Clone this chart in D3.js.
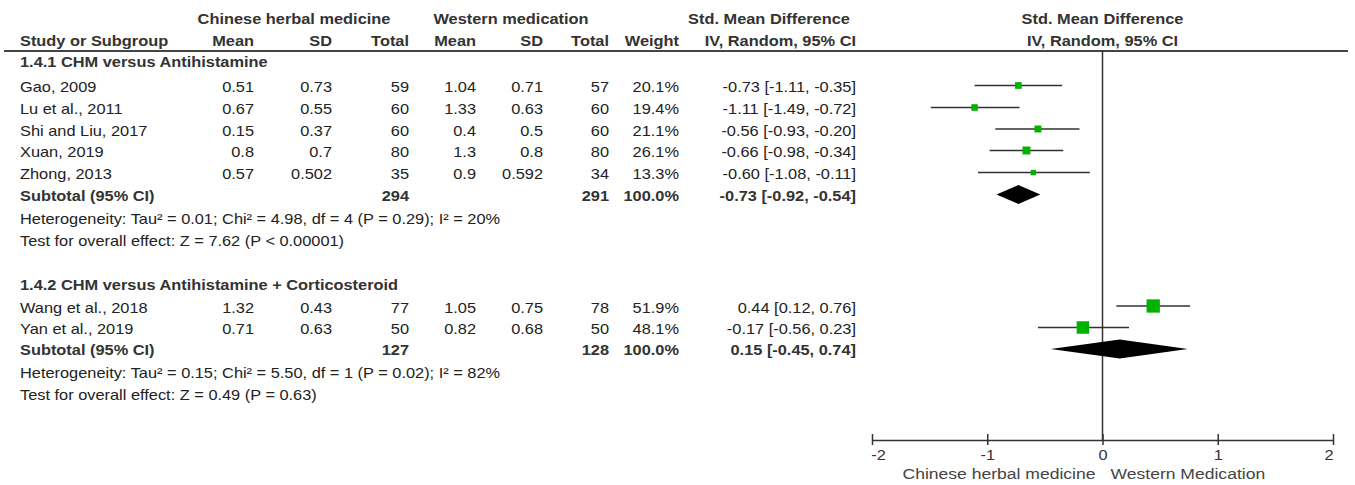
<!DOCTYPE html>
<html>
<head>
<meta charset="utf-8">
<script src="https://cdn.jsdelivr.net/npm/d3@7"></script>
<style>
  body { margin: 0; background: #fff; }
  svg text { font-family: "Liberation Sans", Arial, sans-serif; font-size: 14px; fill: #222; }
</style>
</head>
<body>
<script>
// forest plot - CHM vs western medication
var studies = ["Gao, 2009", "Lu et al., 2011", "Shi and Liu, 2017", "Xuan, 2019", "Zhong, 2013",
               "Wang et al., 2018", "Yan et al., 2019"];
var group = [0, 0, 0, 0, 0, 1, 1];
var chmMean = [0.51, 0.67, 0.15, 0.8, 0.57, 1.32, 0.71];
var chmSD = [0.73, 0.55, 0.37, 0.7, 0.502, 0.43, 0.63];
var chmTotal = [59, 60, 60, 80, 35, 77, 50];
var wmMean = [1.04, 1.33, 0.4, 1.3, 0.9, 1.05, 0.82];
var wmSD = [0.71, 0.63, 0.5, 0.8, 0.592, 0.75, 0.68];
var wmTotal = [57, 60, 60, 80, 34, 78, 50];
var weight = [20.1, 19.4, 21.1, 26.1, 13.3, 51.9, 48.1];
var smd = [-0.73, -1.11, -0.56, -0.66, -0.60, 0.44, -0.17];
var ciLow = [-1.11, -1.49, -0.93, -0.98, -1.08, 0.12, -0.56];
var ciHigh = [-0.35, -0.72, -0.20, -0.34, -0.11, 0.76, 0.23];

var groupTitles = ["1.4.1 CHM versus Antihistamine", "1.4.2 CHM versus Antihistamine + Corticosteroid"];
var subChmTotal = [294, 127];
var subWmTotal = [291, 128];
var subSmd = [-0.73, 0.15];
var subLow = [-0.92, -0.45];
var subHigh = [-0.54, 0.74];
var hetText = ["Heterogeneity: Tau\u00b2 = 0.01; Chi\u00b2 = 4.98, df = 4 (P = 0.29); I\u00b2 = 20%",
               "Heterogeneity: Tau\u00b2 = 0.15; Chi\u00b2 = 5.50, df = 1 (P = 0.02); I\u00b2 = 82%"];
var effectText = ["Test for overall effect: Z = 7.62 (P < 0.00001)",
                  "Test for overall effect: Z = 0.49 (P = 0.63)"];
var tickVals = [-2, -1, 0, 1, 2];
var favourLabels = ["Chinese herbal medicine", "Western Medication"];

var w = 1355;
var h = 485;
var sx = 1.17; // the source text is a bit stretched sideways
var svg = d3.select("body").append("svg")
  .attr("width", w)
  .attr("height", h);

var x = d3.scaleLinear().domain([-2, 2]).range([872, 1333]);
var boxSize = d3.scaleLinear().domain([13.3, 51.9]).range([5.3, 13.3]);
var green = "#00b300";
var lineCol = "#333";

// baselines of each text row
var studyY = [92, 114, 135.5, 157, 179, 312.5, 334];
var titleY = [67, 290];
var subY = [200.5, 355];
var hetY = [224, 378];
var effY = [246, 400];

// column right edges
var cols = {cm: 254, cs: 332, ct: 409, wm: 476, ws: 543, wt: 609, wgt: 679, ci: 856};
function fmtCI(e, lo, hi) {
  return e.toFixed(2) + " [" + lo.toFixed(2) + ", " + hi.toFixed(2) + "]";
}
function place(xx, yy) {
  return "translate(" + xx + "," + yy + ") scale(" + sx + ",1)";
}

// header
function htext(xx, yy, s, anchor) {
  svg.append("text").attr("transform", place(xx, yy)).attr("text-anchor", anchor)
    .style("font-weight", "bold").style("fill", "#333").text(s);
}
htext(294, 24, "Chinese herbal medicine", "middle");
htext(511, 24, "Western medication", "middle");
htext(769, 24, "Std. Mean Difference", "middle");
htext(x(0), 24, "Std. Mean Difference", "middle");
htext(20, 46, "Study or Subgroup", "start");
htext(cols.cm, 46, "Mean", "end");
htext(cols.cs, 46, "SD", "end");
htext(cols.ct, 46, "Total", "end");
htext(cols.wm, 46, "Mean", "end");
htext(cols.ws, 46, "SD", "end");
htext(cols.wt, 46, "Total", "end");
htext(cols.wgt, 46, "Weight", "end");
htext(cols.ci, 46, "IV, Random, 95% CI", "end");
htext(x(0), 46, "IV, Random, 95% CI", "middle");

svg.append("line")
  .attr("x1", 4).attr("x2", 1348)
  .attr("y1", 51).attr("y2", 51)
  .attr("stroke", "#444").attr("stroke-width", 2);

// null line
svg.append("line")
  .attr("x1", x(0)).attr("x2", x(0))
  .attr("y1", 51).attr("y2", 440)
  .attr("stroke", lineCol).attr("stroke-width", 1.5);

// study rows
var rows = svg.selectAll(".study")
  .data(studies)
  .enter()
  .append("g")
  .attr("class", "study")
  .attr("transform", function(d, i) { return "translate(0," + studyY[i] + ")"; });

rows.append("text").attr("transform", place(20, 0)).text(function(d) { return d; });
var numCols = [
  [cols.cm, function(i) { return String(chmMean[i]); }],
  [cols.cs, function(i) { return String(chmSD[i]); }],
  [cols.ct, function(i) { return chmTotal[i]; }],
  [cols.wm, function(i) { return String(wmMean[i]); }],
  [cols.ws, function(i) { return String(wmSD[i]); }],
  [cols.wt, function(i) { return wmTotal[i]; }],
  [cols.wgt, function(i) { return weight[i].toFixed(1) + "%"; }],
  [cols.ci, function(i) { return fmtCI(smd[i], ciLow[i], ciHigh[i]); }]
];
numCols.forEach(function(c) {
  rows.append("text")
    .attr("transform", place(c[0], 0))
    .attr("text-anchor", "end")
    .text(function(d, i) { return c[1](i); });
});

rows.append("line")
  .attr("x1", function(d, i) { return x(ciLow[i]); })
  .attr("x2", function(d, i) { return x(ciHigh[i]); })
  .attr("y1", -6.5).attr("y2", -6.5)
  .attr("stroke", lineCol).attr("stroke-width", 1.7);

rows.append("rect")
  .attr("x", function(d, i) { return x(smd[i]) - boxSize(weight[i]) / 2; })
  .attr("y", function(d, i) { return -6.5 - boxSize(weight[i]) / 2; })
  .attr("width", function(d, i) { return boxSize(weight[i]); })
  .attr("height", function(d, i) { return boxSize(weight[i]); })
  .attr("fill", green);

// subgroups
var subs = svg.selectAll(".sub")
  .data(groupTitles)
  .enter()
  .append("g")
  .attr("class", "sub");

subs.append("text")
  .attr("transform", function(d, i) { return place(20, titleY[i]); })
  .style("font-weight", "bold").style("fill", "#333")
  .text(function(d) { return d; });

subs.append("text")
  .attr("transform", function(d, i) { return place(20, subY[i]); })
  .style("font-weight", "bold").style("fill", "#333")
  .text("Subtotal (95% CI)");

var subCols = [
  [cols.ct, function(i) { return subChmTotal[i]; }],
  [cols.wt, function(i) { return subWmTotal[i]; }],
  [cols.wgt, function(i) { return "100.0%"; }],
  [cols.ci, function(i) { return fmtCI(subSmd[i], subLow[i], subHigh[i]); }]
];
subCols.forEach(function(c) {
  subs.append("text")
    .attr("transform", function(d, i) { return place(c[0], subY[i]); })
    .attr("text-anchor", "end")
    .style("font-weight", "bold").style("fill", "#333")
    .text(function(d, i) { return c[1](i); });
});

subs.append("text")
  .attr("transform", function(d, i) { return place(20, hetY[i]); })
  .text(function(d, i) { return hetText[i]; });
subs.append("text")
  .attr("transform", function(d, i) { return place(20, effY[i]); })
  .text(function(d, i) { return effectText[i]; });

subs.append("path")
  .attr("d", function(d, i) {
    var cy = subY[i] - 6;
    return "M" + x(subLow[i]) + "," + cy +
      "L" + x(subSmd[i]) + "," + (cy - 9.5) +
      "L" + x(subHigh[i]) + "," + cy +
      "L" + x(subSmd[i]) + "," + (cy + 9.5) + "Z";
  })
  .attr("fill", "#000");

// axis
var axis = svg.append("g")
  .attr("transform", "translate(0,440)")
  .call(d3.axisBottom(x).tickValues(tickVals).tickSizeOuter(0)
    .tickFormat(function(d) { return String(d); }));
axis.select(".domain").attr("stroke", lineCol).attr("stroke-width", 1.5);
axis.selectAll(".tick line")
  .attr("y1", -6).attr("y2", 5)
  .attr("stroke", lineCol).attr("stroke-width", 1.5);
axis.selectAll(".tick text")
  .attr("y", 0).attr("dy", null)
  .attr("transform", "translate(0,20) scale(" + sx + ",1)")
  .style("font-size", "14px").style("font-family", "'Liberation Sans', Arial, sans-serif")
  .style("fill", "#333")
  .attr("text-anchor", function(d) { return d == -2 ? "start" : (d == 2 ? "end" : "middle"); })
  .attr("dx", function(d) { return d == -2 ? -1 : 0; });

svg.append("text")
  .attr("transform", place(x(0) - 7, 479))
  .attr("text-anchor", "end")
  .style("fill", "#444").style("font-size", "15px")
  .text(favourLabels[0]);
svg.append("text")
  .attr("transform", place(x(0) + 8, 479))
  .style("fill", "#444").style("font-size", "15px")
  .text(favourLabels[1]);
</script>
</body>
</html>
